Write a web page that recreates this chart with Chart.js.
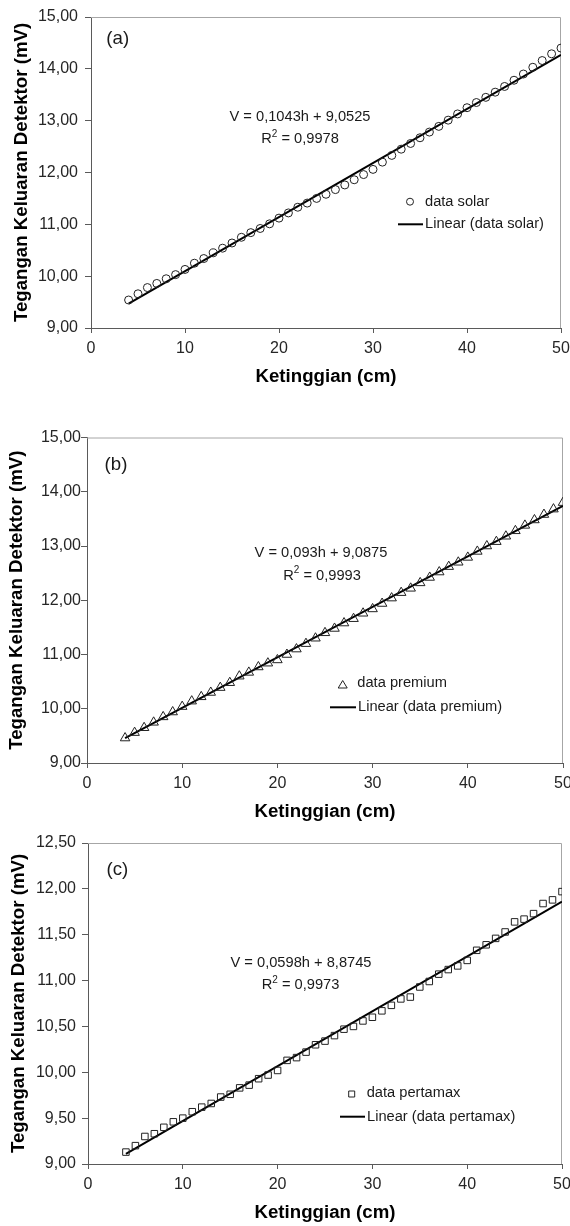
<!DOCTYPE html>
<html>
<head>
<meta charset="utf-8">
<script src="https://cdn.jsdelivr.net/npm/chart.js@4.4.1/dist/chart.umd.min.js"></script>
<style>
    body { margin: 0; background: #fff; width: 570px; height: 1226px; position: relative; overflow: hidden; }
    canvas { position: absolute; left: 0; }
</style>
</head>
<body>
<canvas id="chartA" width="570" height="395" style="top:0px"></canvas>
<canvas id="chartB" width="570" height="435" style="top:395px"></canvas>
<canvas id="chartC" width="570" height="396" style="top:830px"></canvas>
<script>
// height of the liquid (cm), same for all three measurements
const heights = [4, 5, 6, 7, 8, 9, 10, 11, 12, 13, 14, 15, 16, 17, 18, 19, 20, 21, 22, 23, 24, 25, 26,
    27, 28, 29, 30, 31, 32, 33, 34, 35, 36, 37, 38, 39, 40, 41, 42, 43, 44, 45, 46, 47, 48, 49, 50];

// detector output (mV)
const solarValues = [9.54, 9.66, 9.78, 9.86, 9.95, 10.03, 10.13, 10.25, 10.34, 10.45, 10.54, 10.64, 10.75,
    10.84, 10.92, 11.01, 11.12, 11.22, 11.33, 11.41, 11.50, 11.58, 11.67, 11.76, 11.86, 11.96, 12.06,
    12.20, 12.33, 12.45, 12.56, 12.67, 12.78, 12.89, 13.01, 13.13, 13.25, 13.35, 13.45, 13.55, 13.66,
    13.78, 13.90, 14.03, 14.16, 14.29, 14.40];
const premiumValues = [9.46, 9.56, 9.65, 9.75, 9.85, 9.94, 10.04, 10.14, 10.22, 10.30, 10.39, 10.48, 10.60,
    10.67, 10.77, 10.84, 10.90, 11.00, 11.10, 11.20, 11.30, 11.40, 11.48, 11.58, 11.66, 11.76, 11.84,
    11.94, 12.04, 12.14, 12.22, 12.32, 12.42, 12.52, 12.62, 12.70, 12.79, 12.90, 13.00, 13.08, 13.18,
    13.28, 13.38, 13.48, 13.58, 13.68, 13.80];
const pertamaxValues = [9.13, 9.20, 9.30, 9.33, 9.40, 9.46, 9.50, 9.57, 9.62, 9.66, 9.73, 9.76, 9.83,
    9.86, 9.93, 9.97, 10.02, 10.13, 10.16, 10.22, 10.30, 10.34, 10.40, 10.47, 10.50, 10.56, 10.60,
    10.67, 10.73, 10.80, 10.82, 10.93, 10.99, 11.07, 11.12, 11.16, 11.22, 11.33, 11.39, 11.46, 11.53,
    11.64, 11.67, 11.73, 11.84, 11.88, 11.97];

// linear trend lines, start and end
const trendX = [4, 50];
const solarTrend = [9.47, 14.27];
const premiumTrend = [9.46, 13.74];
const pertamaxTrend = [9.11, 11.86];

// tick labels
const xTicks = [0, 10, 20, 30, 40, 50];
const solarTicks = [9, 10, 11, 12, 13, 14, 15];
const premiumTicks = [9, 10, 11, 12, 13, 14, 15];
const pertamaxTicks = [9, 9.5, 10, 10.5, 11, 11.5, 12, 12.5];

const FONT = "'Liberation Sans', Arial, sans-serif";

function fmt(v) {
    return v.toFixed(2).replace('.', ',');
}

// frame, panel letter, equation and legend
function overlayPlugin(cfg) {
    return {
        id: 'overlay',
        beforeDatasetsDraw(chart) {
            let ctx = chart.ctx;
            let a = chart.chartArea;
            ctx.save();
            ctx.strokeStyle = '#a6a6a6';
            ctx.lineWidth = 1;
            ctx.beginPath();
            ctx.moveTo(a.left, a.top + 0.5);
            ctx.lineTo(a.right - 0.5, a.top + 0.5);
            ctx.lineTo(a.right - 0.5, a.bottom);
            ctx.stroke();
            ctx.restore();
        },
        afterDraw(chart) {
            let ctx = chart.ctx;
            ctx.save();
            ctx.fillStyle = '#1a1a1a';
            ctx.textBaseline = 'middle';

            // (a) / (b) / (c)
            ctx.font = `18.67px ${FONT}`;
            ctx.textAlign = 'center';
            ctx.fillText(cfg.panel, cfg.panelPos[0], cfg.panelPos[1]);

            // regression equation
            ctx.font = `14.67px ${FONT}`;
            ctx.fillText(cfg.equation, cfg.eqPos[0], cfg.eqPos[1]);
            let rest = ' = ' + cfg.r2;
            let wR = ctx.measureText('R').width;
            let wRest = ctx.measureText(rest).width;
            ctx.font = `10px ${FONT}`;
            let w2 = ctx.measureText('2').width;
            let x0 = cfg.r2Pos[0] - (wR + w2 + wRest) / 2;
            ctx.textAlign = 'left';
            ctx.font = `14.67px ${FONT}`;
            ctx.fillText('R', x0, cfg.r2Pos[1]);
            ctx.fillText(rest, x0 + wR + w2, cfg.r2Pos[1]);
            ctx.font = `10px ${FONT}`;
            ctx.fillText('2', x0 + wR, cfg.r2Pos[1] - 5);

            // legend
            let m = cfg.legendMarker;
            ctx.strokeStyle = '#222';
            ctx.lineWidth = 1;
            ctx.beginPath();
            if (cfg.marker === 'circle') {
                ctx.arc(m[0], m[1], 3.5, 0, Math.PI * 2);
            } else if (cfg.marker === 'triangle') {
                ctx.moveTo(m[0], m[1] - 4.5);
                ctx.lineTo(m[0] + 4.5, m[1] + 3);
                ctx.lineTo(m[0] - 4.5, m[1] + 3);
                ctx.closePath();
            } else {
                ctx.rect(m[0] - 3, m[1] - 3, 6, 6);
            }
            ctx.stroke();
            ctx.font = `14.67px ${FONT}`;
            ctx.fillText(cfg.seriesLabel, cfg.legendText[0], cfg.legendText[1]);

            let l = cfg.legendLine;
            ctx.strokeStyle = '#000';
            ctx.lineWidth = 2;
            ctx.beginPath();
            ctx.moveTo(l[0], l[2]);
            ctx.lineTo(l[1], l[2]);
            ctx.stroke();
            ctx.fillText('Linear (' + cfg.seriesLabel + ')', l[1] + 2, l[2]);
            ctx.restore();
        }
    };
}

function buildChart(id, cfg) {
    let ctx = document.getElementById(id).getContext('2d');
    let canvasH = document.getElementById(id).height;

    return new Chart(ctx, {
        type: 'scatter',
        data: {
            datasets: [{
                label: cfg.seriesLabel,
                data: heights.map((h, i) => ({ x: h, y: cfg.values[i] })),
                pointStyle: cfg.marker,
                pointRadius: cfg.markerSize,
                pointBorderColor: '#222',
                pointBackgroundColor: 'rgba(0,0,0,0)',
                pointBorderWidth: 1,
                showLine: false
            }, {
                label: 'Linear (' + cfg.seriesLabel + ')',
                data: trendX.map((h, i) => ({ x: h, y: cfg.trend[i] })),
                showLine: true,
                borderColor: '#000',
                borderWidth: 2,
                pointRadius: 0
            }]
        },
        options: {
            responsive: false,
            animation: false,
            events: [],
            layout: {
                padding: { top: cfg.plot.top, right: 570 - cfg.plot.right, bottom: 0, left: 0 }
            },
            plugins: {
                legend: { display: false },
                tooltip: { enabled: false }
            },
            scales: {
                x: {
                    type: 'linear',
                    min: 0,
                    max: 50,
                    afterBuildTicks: (scale) => { scale.ticks = xTicks.map(v => ({ value: v })); },
                    afterFit: (scale) => {
                        scale.height = canvasH - cfg.plot.bottom;
                        scale.paddingLeft = 0;
                        scale.paddingRight = 0;
                    },
                    grid: { drawOnChartArea: false, drawTicks: true, tickLength: 5, color: '#5a5a5a' },
                    border: { color: '#5a5a5a', width: 1 },
                    ticks: {
                        padding: 6,
                        color: '#262626',
                        maxRotation: 0,
                        font: { family: FONT, size: 16 }
                    },
                    title: {
                        display: true,
                        text: 'Ketinggian (cm)',
                        color: '#000',
                        padding: { top: 0, bottom: cfg.xTitlePad },
                        font: { family: FONT, size: 18.67, weight: 'bold' }
                    }
                },
                y: {
                    type: 'linear',
                    min: cfg.yTicks[0],
                    max: cfg.yTicks[cfg.yTicks.length - 1],
                    afterBuildTicks: (scale) => { scale.ticks = cfg.yTicks.map(v => ({ value: v })); },
                    afterFit: (scale) => {
                        scale.width = cfg.plot.left;
                        scale.paddingTop = 0;
                        scale.paddingBottom = 0;
                    },
                    grid: { drawOnChartArea: false, drawTicks: true, tickLength: 6, color: '#5a5a5a' },
                    border: { color: '#5a5a5a', width: 1 },
                    ticks: {
                        padding: cfg.yTickPad,
                        color: '#262626',
                        font: { family: FONT, size: cfg.yTickSize },
                        callback: (v) => fmt(v)
                    },
                    title: {
                        display: true,
                        text: 'Tegangan Keluaran Detektor (mV)',
                        color: '#000',
                        padding: { top: cfg.yTitlePad, bottom: 0 },
                        font: { family: FONT, size: 18.67, weight: 'bold' }
                    }
                }
            }
        },
        plugins: [overlayPlugin(cfg)]
    });
}

window.onload = () => {
    // chart (a)
    buildChart('chartA', {
        values: solarValues, trend: solarTrend, yTicks: solarTicks,
        seriesLabel: 'data solar', marker: 'circle', markerSize: 4,
        plot: { left: 91, top: 17, right: 561, bottom: 328 },
        yTitlePad: 11, xTitlePad: 6.8, yTickPad: 7, yTickSize: 16,
        panel: '(a)', panelPos: [117.7, 39.3],
        equation: 'V = 0,1043h + 9,0525', eqPos: [300, 117],
        r2: '0,9978', r2Pos: [300, 139],
        legendMarker: [410, 201.7], legendText: [425, 202],
        legendLine: [398, 423, 224.3]
    });

    // chart (b)
    buildChart('chartB', {
        values: premiumValues, trend: premiumTrend, yTicks: premiumTicks,
        seriesLabel: 'data premium', marker: 'triangle', markerSize: 5.5,
        plot: { left: 87, top: 42.5, right: 563, bottom: 368 },
        yTitlePad: 6, xTitlePad: 6.8, yTickPad: 0, yTickSize: 16,
        panel: '(b)', panelPos: [116, 70],
        equation: 'V = 0,093h + 9,0875', eqPos: [321, 157.7],
        r2: '0,9993', r2Pos: [322, 180.7],
        legendMarker: [342.7, 290], legendText: [357.3, 288.3],
        legendLine: [330, 356, 312.3]
    });

    // chart (c)
    buildChart('chartC', {
        values: pertamaxValues, trend: pertamaxTrend, yTicks: pertamaxTicks,
        seriesLabel: 'data pertamax', marker: 'rect', markerSize: 4.6,
        plot: { left: 88, top: 13, right: 562, bottom: 334 },
        yTitlePad: 8, xTitlePad: 1.5, yTickPad: 6, yTickSize: 16,
        panel: '(c)', panelPos: [117.3, 40],
        equation: 'V = 0,0598h + 8,8745', eqPos: [301, 132.7],
        r2: '0,9973', r2Pos: [300.5, 155],
        legendMarker: [351.7, 264], legendText: [366.7, 262.7],
        legendLine: [340, 365, 286.7]
    });
}
</script>
</body>
</html>
